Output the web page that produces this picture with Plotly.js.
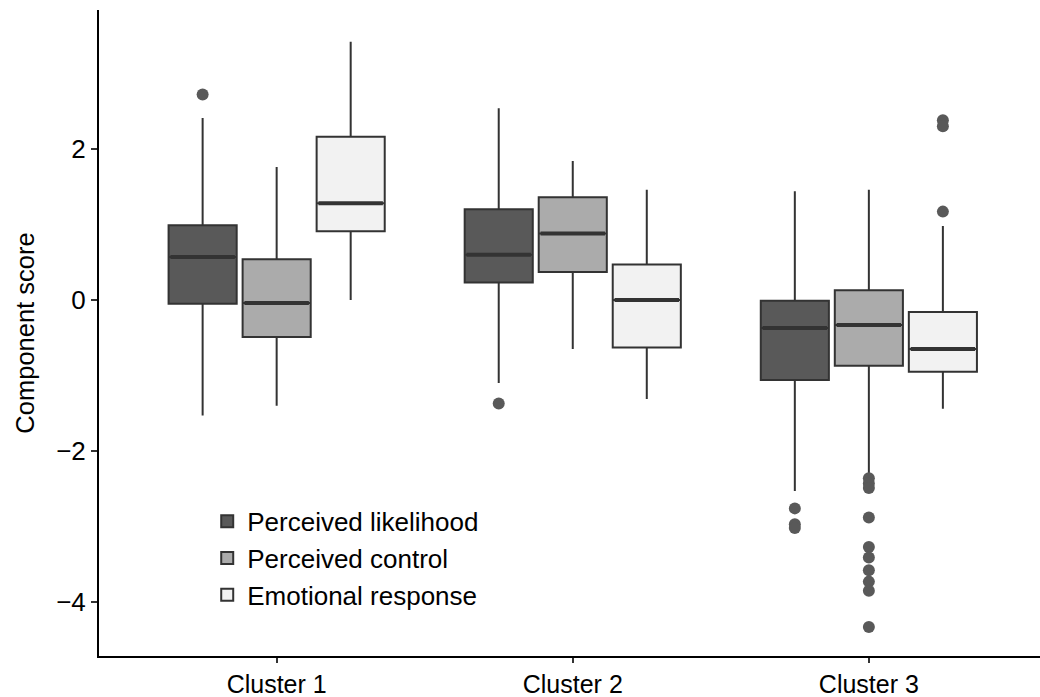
<!DOCTYPE html>
<html>
<head>
<meta charset="utf-8">
<script src="https://cdn.plot.ly/plotly-3.0.1.min.js"></script>
<style>html,body{margin:0;padding:0;background:#fff;}#chart{width:1040px;height:697px;}</style>
</head>
<body>
<div id="chart"></div>
<script>
const clusters = ['Cluster 1', 'Cluster 2', 'Cluster 3'];
const seriesNames = ['Perceived likelihood', 'Perceived control', 'Emotional response'];

const likelihoodLower = [-1.53, -1.10, -2.53];
const likelihoodQ1 = [-0.05, 0.23, -1.06];
const likelihoodMedian = [0.57, 0.60, -0.37];
const likelihoodQ3 = [0.99, 1.20, -0.01];
const likelihoodUpper = [2.41, 2.54, 1.44];
const likelihoodOutliers = [[2.72], [-1.37], [-2.76, -2.97, -3.02]];

const controlLower = [-1.40, -0.65, -2.32];
const controlQ1 = [-0.49, 0.37, -0.87];
const controlMedian = [-0.04, 0.88, -0.33];
const controlQ3 = [0.54, 1.36, 0.13];
const controlUpper = [1.76, 1.84, 1.46];
const controlOutliers = [[], [], [-2.36, -2.43, -2.49, -2.88, -3.27, -3.41, -3.58, -3.73, -3.85, -4.33]];

const emotionalLower = [0.00, -1.31, -1.44];
const emotionalQ1 = [0.91, -0.63, -0.95];
const emotionalMedian = [1.28, 0.00, -0.65];
const emotionalQ3 = [2.16, 0.47, -0.16];
const emotionalUpper = [3.42, 1.46, 0.98];
const emotionalOutliers = [[], [], [2.38, 2.30, 1.17]];

const yTickVals = [-4, -2, 0, 2];

const fills = ['#595959', '#ababab', '#f2f2f2'];
const stats = [
  [likelihoodLower, likelihoodQ1, likelihoodMedian, likelihoodQ3, likelihoodUpper, likelihoodOutliers],
  [controlLower, controlQ1, controlMedian, controlQ3, controlUpper, controlOutliers],
  [emotionalLower, emotionalQ1, emotionalMedian, emotionalQ3, emotionalUpper, emotionalOutliers]
];

const FONT = 'Liberation Sans, Arial, Helvetica, sans-serif';

const traces = [];
stats.forEach((s, i) => {
  traces.push({
    type: 'box',
    name: seriesNames[i],
    x: clusters,
    lowerfence: s[0],
    q1: s[1],
    median: s[2],
    q3: s[3],
    upperfence: s[4],
    boxpoints: false,
    whiskerwidth: 0,
    fillcolor: fills[i],
    line: {color: '#333333', width: 2},
    hoverinfo: 'skip'
  });
});
// thick median bars
stats.forEach((s, i) => {
  traces.push({
    type: 'scatter', mode: 'markers', showlegend: false, hoverinfo: 'skip',
    x: clusters, y: s[2],
    offsetgroup: 'g' + i, alignmentgroup: 'a',
    marker: {symbol: 'line-ew', size: 46, color: '#333333', line: {color: '#333333', width: 4}}
  });
});
// outlier points
stats.forEach((s, i) => {
  const ox = [], oy = [];
  s[5].forEach((vals, c) => vals.forEach(v => { ox.push(clusters[c]); oy.push(v); }));
  traces.push({
    type: 'scatter', mode: 'markers', showlegend: false, hoverinfo: 'skip',
    x: ox, y: oy,
    offsetgroup: 'g' + i, alignmentgroup: 'a',
    marker: {color: '#595959', size: 12, line: {width: 0}}
  });
});

const layout = {
  width: 1040,
  height: 697,
  margin: {l: 99, r: 0, t: 10, b: 41},
  paper_bgcolor: '#ffffff',
  plot_bgcolor: '#ffffff',
  boxmode: 'group',
  boxgap: 0.25,
  boxgroupgap: 0.08,
  scattermode: 'group',
  scattergap: 0.25,
  font: {family: FONT, size: 25, color: '#000000'},
  showlegend: true,
  legend: {
    x: 0.115, y: 0.245, xanchor: 'left', yanchor: 'top',
    bgcolor: 'rgba(0,0,0,0)',
    font: {family: FONT, size: 26, color: '#000000'},
    tracegroupgap: 0,
    itemwidth: 30
  },
  xaxis: {
    type: 'category',
    categoryorder: 'array', categoryarray: clusters,
    range: [-0.6, 2.578],
    showline: true, linecolor: '#000000', linewidth: 2,
    ticks: 'outside', ticklen: 5, tickwidth: 2, tickcolor: '#333333',
    tickfont: {family: FONT, size: 25, color: '#000000'},
    showgrid: false, zeroline: false, fixedrange: true
  },
  yaxis: {
    range: [-4.715, 3.84],
    tickvals: yTickVals,
    showline: true, linecolor: '#000000', linewidth: 2,
    ticks: 'outside', ticklen: 6, tickwidth: 2, tickcolor: '#333333',
    tickfont: {family: FONT, size: 26, color: '#000000'},
    showgrid: false, zeroline: false, fixedrange: true,
    title: {text: 'Component score', font: {family: FONT, size: 25.5, color: '#000000'}, standoff: 14}
  }
};

Plotly.newPlot('chart', traces, layout, {displayModeBar: false, staticPlot: true});
</script>
</body>
</html>
